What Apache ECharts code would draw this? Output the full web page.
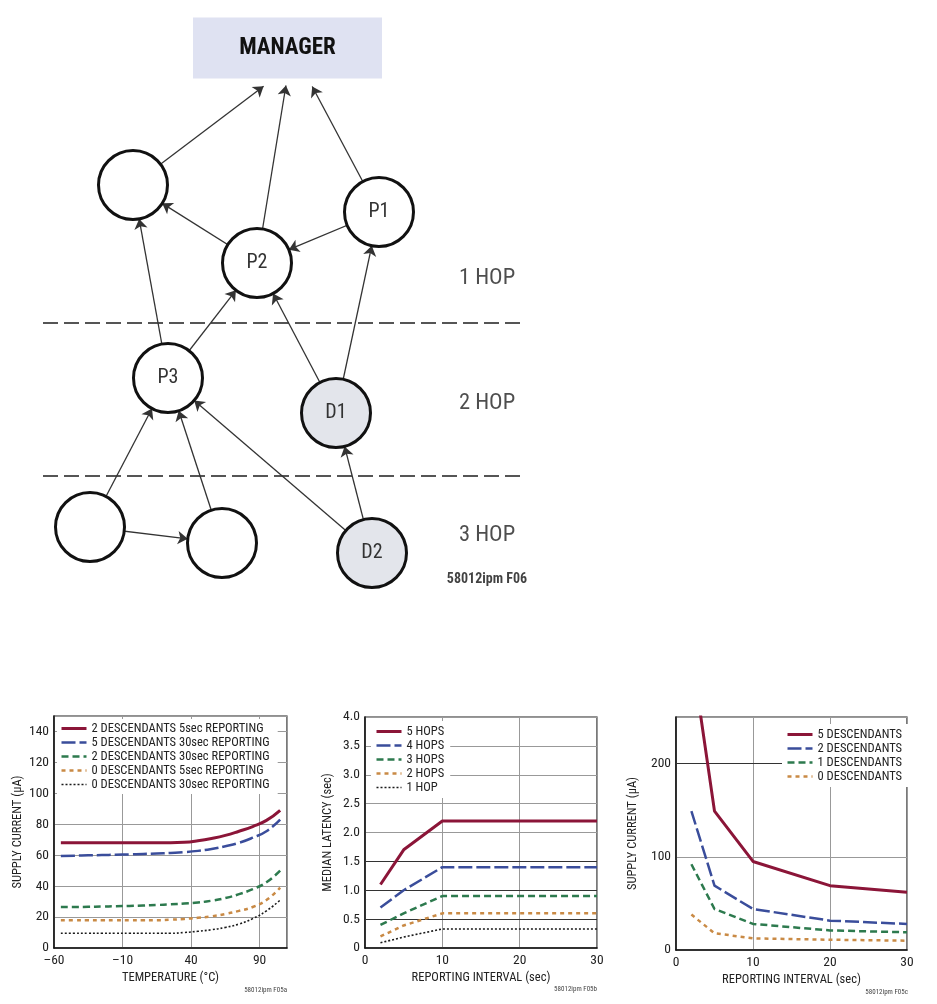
<!DOCTYPE html>
<html><head><meta charset="utf-8">
<script src="https://cdn.jsdelivr.net/npm/echarts@6/dist/echarts.min.js"></script>
<style>html,body{margin:0;padding:0;background:#fff}#c{width:937px;height:1004px}</style>
</head><body><div id="c"></div>
<script>
// ---------- Network diagram data ----------
const nodeNames = ['MANAGER','N0','P1','P2','P3','D1','N1','N2','D2','M1','M2','M3'];
const nodeLabels = ['MANAGER','','P1','P2','P3','D1','','','D2','','',''];
const nodeX = [287.5, 133, 379, 257, 168, 336, 90, 222, 372, 264, 286, 312];
const nodeY = [48, 185, 212, 263, 378, 413, 527, 543, 553, 86, 85, 86];
const nodeKind = ['box','open','open','open','open','shaded','open','open','shaded','anchor','anchor','anchor'];
const linkSources = ['N0','P2','P1','P2','P1','P3','P3','D1','D1','N1','N2','D2','D2','N1'];
const linkTargets = ['M1','M2','M3','N0','P2','N0','P2','P2','P1','P3','P3','P3','D1','N2'];
const hopLabels = ['1 HOP','2 HOP','3 HOP'];
const hopLabelX = [487, 487, 487];
const hopLabelY = [278, 403, 535];
const separatorY = [323, 476];
const separatorX = [43, 525];
const diagramNote = '58012ipm F06';

// ---------- Chart A: supply current vs temperature ----------
const tempX = [-55,-45,-35,-25,-15,-5,5,15,25,35,45,55,65,75,85,95,105];
const aNames = ['2 DESCENDANTS 5sec REPORTING','5 DESCENDANTS 30sec REPORTING','2 DESCENDANTS 30sec REPORTING','0 DESCENDANTS 5sec REPORTING','0 DESCENDANTS 30sec REPORTING'];
const a0 = [68,68,68,68,68,68,68,68,68,68.3,69.3,70.8,72.8,75.5,78.5,82.5,89];
const a1 = [59.5,59.7,59.9,60.1,60.3,60.5,60.8,61.1,61.5,62,62.8,64,65.8,68,71.3,75.5,83];
const a2 = [26.5,26.5,26.6,26.8,27,27.2,27.5,27.8,28.2,28.7,29.4,30.6,32.3,34.8,38,42.5,50];
const a3 = [18,18,18,18,18,18,18,18,18.3,18.8,19.5,20.5,22,24,26.5,31,39];
const a4 = [9.5,9.5,9.5,9.5,9.5,9.5,9.5,9.5,9.5,10,10.8,11.8,13.3,15.5,19,24,31];

// ---------- Chart B: median latency vs reporting interval ----------
const intervalX = [2,5,10,20,30];
const bNames = ['5 HOPS','4 HOPS','3 HOPS','2 HOPS','1 HOP'];
const b0 = [1.1,1.7,2.2,2.2,2.2];
const b1 = [0.7,1.0,1.4,1.4,1.4];
const b2 = [0.4,0.6,0.9,0.9,0.9];
const b3 = [0.2,0.39,0.6,0.6,0.6];
const b4 = [0.09,0.19,0.33,0.33,0.33];
const bDarkGrid = [0.5, 1.0, 1.5];

// ---------- Chart C: supply current vs reporting interval ----------
const cNames = ['5 DESCENDANTS','2 DESCENDANTS','1 DESCENDANTS','0 DESCENDANTS'];
const c0 = [320,149,95,69,62];
const c1 = [149,69,44,31.5,28];
const c2 = [92,44,28,21,19];
const c3 = [38,18,12.5,11,10];
const cDarkGrid = [200];

const chartNotes = ['58012ipm F05a','58012ipm F05b','58012ipm F05c'];

// ---------- font selection (condensed face if present, else scaled) ----------
const cands = ['Liberation Sans Narrow','Arial Narrow','Roboto Condensed','Noto Sans Condensed','DejaVu Sans Condensed','Nimbus Sans Narrow','Open Sans Condensed'];
const cv = document.createElement('canvas').getContext('2d');
function tw(font, s) { cv.font = font; return cv.measureText(s).width; }
const probe = 'MANAGER DESCENDANTS REPORTING 0123456789';
let fam = 'Liberation Sans';
for (const c of cands) {
  if (tw("100px '" + c + "', monospace", probe) !== tw('100px monospace', probe)) { fam = c; break; }
}
const K = 0.82 * tw("100px 'Liberation Sans'", probe) / tw("100px '" + fam + "'", probe);
const F = "'" + fam + "','Liberation Sans',sans-serif";
const fs = s => Math.round(s * K * 10) / 10;

// ---------- styling ----------
const styles = [
  {color:'#8b1538', width:3, type:'solid'},
  {color:'#3a4d9b', width:2.5, type:[14,4]},
  {color:'#2d7a4e', width:2.5, type:[7,4]},
  {color:'#c98a45', width:2.5, type:[4,4]},
  {color:'#1a1a1a', width:1.6, type:[2,2]}
];
const GRID = '#999';

const chart = echarts.init(document.getElementById('c'), null, {renderer:'canvas'});

const grids = [
  {left:0, top:0, width:937, height:620},
  {left:54, top:716, width:233, height:232},
  {left:365, top:717, width:232, height:231},
  {left:676, top:717, width:231, height:233}
].map(g => Object.assign({outerBoundsMode:'none', containLabel:false, show:true, borderColor:'#222', borderWidth:1.2, backgroundColor:'transparent'}, g));
grids[0].show = false;

const minus = v => String(v).replace('-', '–');

function xAx(gi, min, max, interval, name, showMax, fmt) {
  return {type:'value', gridIndex:gi, min, max, interval, name, nameLocation:'middle', nameGap:23,
    nameTextStyle:{fontFamily:F, fontSize:fs(12.5), color:'#222'},
    axisLine:{show:true, onZero:false, lineStyle:{color:'#111', width:1.5}},
    axisTick:{show:false},
    axisLabel:{fontFamily:F, fontSize:fs(13.5), color:'#222', margin:6, showMaxLabel:showMax, showMinLabel:true, formatter:fmt},
    splitLine:{show:true, lineStyle:{color:GRID, width:1}}};
}
function yAx(gi, min, max, interval, name, showMax, gap, fmt) {
  return {type:'value', gridIndex:gi, min, max, interval, name, nameLocation:'middle', nameGap:gap,
    nameTextStyle:{fontFamily:F, fontSize:fs(12.5), color:'#222'},
    axisLine:{show:true, onZero:false, lineStyle:{color:'#111', width:1.5}},
    axisTick:{show:false},
    axisLabel:{fontFamily:F, fontSize:fs(13.5), color:'#222', margin:5, showMaxLabel:showMax, showMinLabel:true, formatter:fmt},
    splitLine:{show:true, lineStyle:{color:GRID, width:1}}};
}

const xAxes = [
  {type:'value', gridIndex:0, min:0, max:937, show:false},
  xAx(1, -60, 110, 50, 'TEMPERATURE (°C)', false, minus),
  xAx(2, 0, 30, 10, 'REPORTING INTERVAL (sec)', true),
  xAx(3, 0, 30, 10, 'REPORTING INTERVAL (sec)', true)
];
const yAxes = [
  {type:'value', gridIndex:0, min:0, max:620, inverse:true, show:false},
  yAx(1, 0, 150, 20, 'SUPPLY CURRENT (µA)', false, 30),
  yAx(2, 0, 4, 0.5, 'MEDIAN LATENCY (sec)', true, 31, v => v === 0 ? '0' : v.toFixed(1)),
  yAx(3, 0, 250, 100, 'SUPPLY CURRENT (µA)', false, 37)
];

// ---------- diagram series ----------
const nodes = nodeNames.map((n, i) => {
  const k = nodeKind[i];
  const item = {name:n, value:[nodeX[i], nodeY[i]]};
  if (k === 'box') {
    item.symbol = 'rect'; item.symbolSize = [189, 61];
    item.itemStyle = {color:'#dfe2f2', borderWidth:0};
    item.label = {show:true, formatter:nodeLabels[i], fontFamily:F, fontSize:fs(23), fontWeight:'bold', color:'#111'};
  } else if (k === 'anchor') {
    item.symbol = 'circle'; item.symbolSize = 1;
    item.itemStyle = {color:'rgba(0,0,0,0)', borderWidth:0};
    item.label = {show:false};
  } else {
    item.symbol = 'circle'; item.symbolSize = 69;
    item.itemStyle = {color: k === 'shaded' ? '#e3e5eb' : '#ffffff', borderColor:'#111', borderWidth:3};
    item.label = {show: nodeLabels[i] !== '', formatter:nodeLabels[i], fontFamily:F, fontSize:fs(20), color:'#333'};
  }
  return item;
});
const links = linkSources.map((s, i) => ({source:s, target:linkTargets[i]}));

const series = [];
separatorY.forEach(y => series.push({
  type:'line', xAxisIndex:0, yAxisIndex:0, silent:true, symbol:'none',
  data:[[separatorX[0], y],[separatorX[1], y]],
  lineStyle:{color:'#555', width:2, type:[15,6]}, z:1
}));
series.push({
  type:'graph', coordinateSystem:'cartesian2d', xAxisIndex:0, yAxisIndex:0, layout:'none', silent:true,
  data:nodes, links:links, edgeSymbol:['none','arrow'], edgeSymbolSize:[4,10],
  lineStyle:{color:'#333', width:1.3, opacity:1, curveness:0}, z:3
});
const textItems = hopLabels.map((t, i) => ({name:t, value:[hopLabelX[i], hopLabelY[i]]}));
textItems.push({name:diagramNote, value:[487, 579], label:{fontSize:fs(14), fontWeight:'bold', color:'#111'}});
series.push({
  type:'scatter', xAxisIndex:0, yAxisIndex:0, silent:true, symbolSize:1,
  itemStyle:{color:'rgba(0,0,0,0)'},
  label:{show:true, position:'inside', formatter:'{b}', fontFamily:F, fontSize:fs(22.5), color:'#222'},
  data:textItems
});

// ---------- chart series ----------
function addLines(gi, xs, arrs, names, smooth, dark) {
  arrs.forEach((arr, i) => {
    const s = {
      type:'line', name:names[i], xAxisIndex:gi, yAxisIndex:gi, symbol:'none', silent:true,
      smooth:smooth,
      data: xs.map((x, j) => [x, arr[j]]),
      lineStyle: Object.assign({cap:'butt', join:'round'}, styles[i]),
      itemStyle:{color:styles[i].color}, clip:true, z:2
    };
    if (i === 0 && dark) {
      s.markLine = {silent:true, symbol:'none', label:{show:false}, z:1,
        lineStyle:{color:'#333', width:1, type:'solid'},
        data: dark.map(v => ({yAxis:v}))};
    }
    series.push(s);
  });
}
addLines(1, tempX, [a0,a1,a2,a3,a4], aNames, 0.5);
addLines(2, intervalX, [b0,b1,b2,b3,b4], bNames, false, bDarkGrid);
addLines(3, intervalX, [c0,c1,c2,c3], cNames, false, cDarkGrid);

function legend(left, top, names, padding) {
  return {orient:'vertical', left, top, padding, itemGap:1, itemWidth:25, itemHeight:12,
    backgroundColor:'#fff', selectedMode:false, data:names,
    textStyle:{fontFamily:F, fontSize:fs(12.5), color:'#222'},
    lineStyle:{width:'inherit', type:'inherit'}, itemStyle:{opacity:0}};
}

const noteY = [991, 990, 993];
const noteX = [287, 597, 908];

chart.setOption({
  animation:false,
  backgroundColor:'#fff',
  grid:grids, xAxis:xAxes, yAxis:yAxes,
  legend:[
    legend(57, 719, aNames, [3,8,3,3]),
    legend(371, 721, bNames, [4,6,4,4]),
    legend(782, 724, cNames, [4,6,4,4])
  ],
  graphic: chartNotes.map((t, i) => ({type:'text', right: 937 - noteX[i], top: noteY[i] - 4,
    style:{text:t, font:"7px " + F, fill:'#444'}})),
  series
});
</script></body></html>
